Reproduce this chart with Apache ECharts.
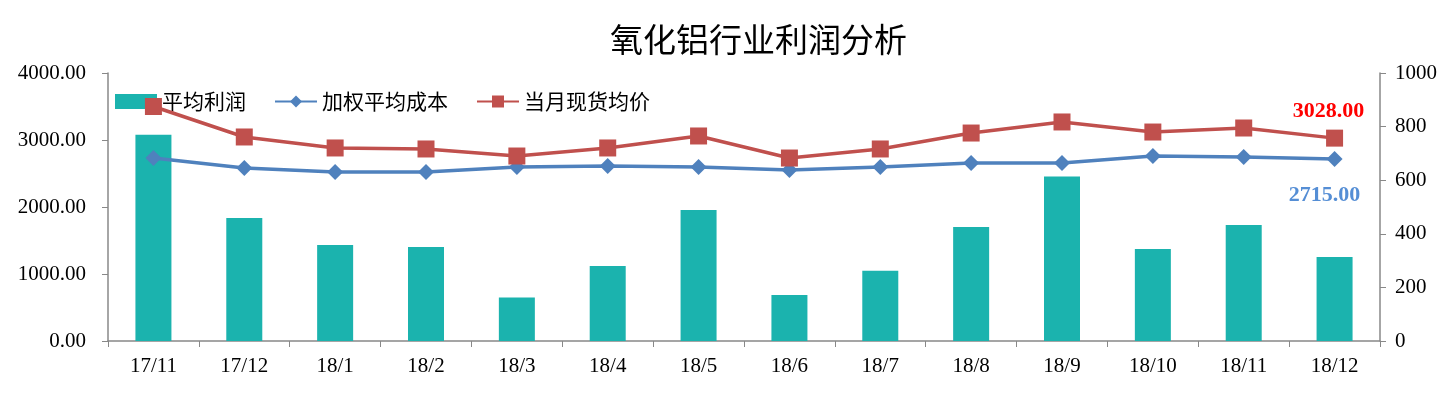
<!DOCTYPE html>
<html><head><meta charset="utf-8">
<script src="https://cdn.jsdelivr.net/npm/echarts@6/dist/echarts.min.js"></script>
<style>html,body{margin:0;padding:0;background:#fff}#c{width:1456px;height:398px}</style>
</head><body><div id="c"></div>
<script>
const categories = ['17/11','17/12','18/1','18/2','18/3','18/4','18/5','18/6','18/7','18/8','18/9','18/10','18/11','18/12'];
const profit = [770, 459, 358, 351, 162, 280, 489, 172, 262, 425, 614, 343, 433, 313];
const cost = [2730, 2582, 2522, 2522, 2597, 2612, 2597, 2552, 2597, 2657, 2657, 2761, 2746, 2715];
const price = [3500, 3045, 2881, 2866, 2761, 2881, 3060, 2731, 2866, 3104, 3269, 3119, 3179, 3028];
const leftTicks = {min: 0, max: 4000, interval: 1000};
const rightTicks = {min: 0, max: 1000, interval: 200};

const serif = '"Liberation Serif","DejaVu Serif",serif';
const cjk = '"Noto Sans CJK SC","Noto Sans",sans-serif';
const axisGray = '#888888';
const chart = echarts.init(document.getElementById('c'));
const last = categories.length - 1;
function withLastLabel(arr, color, pos, offset) {
  return arr.map((v, i) => i === last ? {
    value: v,
    label: {show: true, position: pos, offset: offset, formatter: p => p.value.toFixed(2),
      color: color, fontFamily: serif, fontWeight: 'bold', fontSize: 22}
  } : v);
}
chart.setOption({
  animation: false,
  title: {text: '氧化铝行业利润分析', top: 18, left: 605,
    textStyle: {fontFamily: cjk, fontWeight: 'normal', fontSize: 33, color: '#000'}},
  legend: {left: 110, top: 86, itemGap: 28, itemWidth: 42, itemHeight: 15,
    textStyle: {fontFamily: cjk, fontSize: 21, color: '#000'},
    data: [{name: '平均利润', icon: 'rect'}, '加权平均成本', '当月现货均价']},
  grid: {left: 108, right: 76, top: 73, bottom: 57},
  xAxis: {type: 'category', data: categories, boundaryGap: true,
    axisLine: {lineStyle: {color: axisGray, width: 1.5}},
    axisTick: {show: true, length: 6, alignWithLabel: false, lineStyle: {color: axisGray}},
    axisLabel: {fontFamily: serif, fontSize: 21, color: '#000', margin: 15}},
  yAxis: [
    {type: 'value', min: leftTicks.min, max: leftTicks.max, interval: leftTicks.interval, position: 'left',
      axisLine: {show: true, lineStyle: {color: axisGray, width: 1.5}},
      axisTick: {show: true, length: 6, lineStyle: {color: axisGray}},
      splitLine: {show: false},
      axisLabel: {fontFamily: serif, fontSize: 21, color: '#000', margin: 22, formatter: v => v.toFixed(2)}},
    {type: 'value', min: rightTicks.min, max: rightTicks.max, interval: rightTicks.interval, position: 'right',
      axisLine: {show: true, lineStyle: {color: axisGray, width: 1.5}},
      axisTick: {show: true, length: 6, lineStyle: {color: axisGray}},
      splitLine: {show: false},
      axisLabel: {fontFamily: serif, fontSize: 21, color: '#000', margin: 15, formatter: v => String(v)}}
  ],
  series: [
    {name: '平均利润', type: 'bar', yAxisIndex: 1, data: profit, barWidth: 36,
      itemStyle: {color: '#1BB3AE'}, z: 1},
    {name: '加权平均成本', type: 'line', yAxisIndex: 0, data: withLastLabel(cost, '#558ED5', 'bottom', [-10, 12]),
      symbol: 'diamond', symbolSize: 16, lineStyle: {color: '#4F81BD', width: 3.5},
      itemStyle: {color: '#4F81BD'}, z: 3},
    {name: '当月现货均价', type: 'line', yAxisIndex: 0, data: withLastLabel(price, '#FF0000', 'top', [-6, -2]),
      symbol: 'rect', symbolSize: 17, lineStyle: {color: '#C0504D', width: 3.5},
      itemStyle: {color: '#C0504D'}, z: 4}
  ]
});
</script></body></html>
